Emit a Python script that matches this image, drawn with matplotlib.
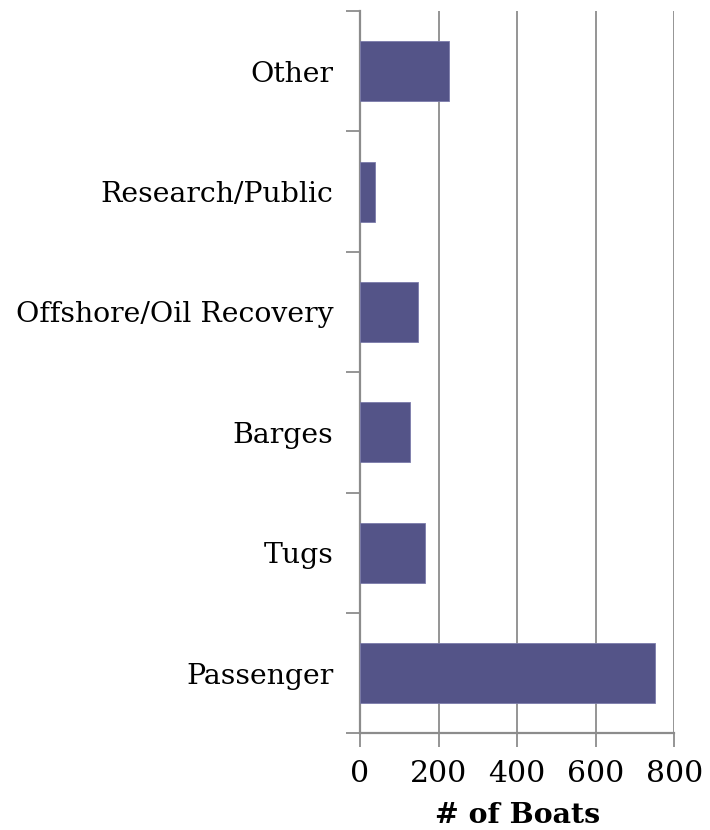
import matplotlib
matplotlib.use('Agg')
from matplotlib import pyplot as plt
import numpy as np

# boat counts by type, bottom to top
categories = ['Passenger', 'Tugs', 'Barges', 'Offshore/Oil Recovery',
              'Research/Public', 'Other']
boats = [751, 166, 127, 147, 38, 226]
x_ticks = [0, 200, 400, 600, 800]

plt.rcParams['font.family'] = 'DejaVu Serif'
grey = '#8c8c8c'

fig = plt.figure(figsize=(7.1, 8.3), dpi=100)
ax = fig.add_axes([0.507, 0.1165, 0.4428, 0.8702])

pos = np.arange(len(categories))
ax.barh(pos, boats, height=0.5, color='#545488', edgecolor='#7b7bab',
        linewidth=0.6, zorder=3)

ax.set_xlim(0, 800)
ax.set_ylim(-0.5, len(categories) - 0.5)

# vertical gridlines
ax.set_xticks(x_ticks)
ax.set_xticklabels([str(t) for t in x_ticks], fontsize=21.5)
ax.xaxis.grid(True, color=grey, linewidth=1.3, zorder=0)

# tick marks between categories, labels centred on the bars
ax.set_yticks(np.arange(-0.5, len(categories)), labels=[])
ax.set_yticks(pos, labels=categories, minor=True, fontsize=20.4)
ax.tick_params(axis='y', which='major', length=10, width=1.3, color=grey)
ax.tick_params(axis='y', which='minor', length=0, pad=19)
ax.tick_params(axis='x', length=10, width=1.3, color=grey, pad=9)

for side in ['top', 'right']:
    ax.spines[side].set_visible(False)
for side in ['left', 'bottom']:
    ax.spines[side].set_color(grey)
    ax.spines[side].set_linewidth(1.6)

ax.set_xlabel('# of Boats', fontsize=20.5, fontweight='bold', labelpad=10)

plt.savefig('out.png', dpi=100)
